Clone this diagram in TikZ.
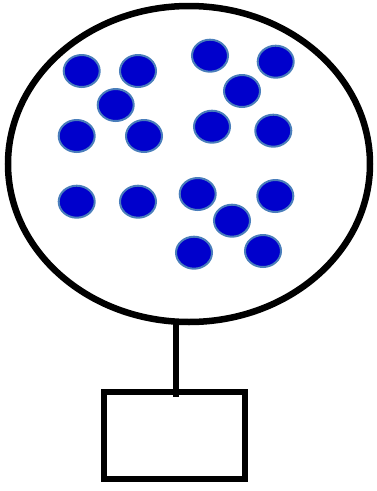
\documentclass[tikz,border=0pt]{standalone}
\definecolor{dotfill}{HTML}{0000CC}
\definecolor{dotline}{HTML}{4A7EBB}
\tikzset{
  dot/.style={ellipse, minimum width=36pt, minimum height=32pt, inner sep=0pt, fill=dotfill, draw=dotline, line width=2pt},
  thick line/.style={line width=6.5pt, black}
}
\usetikzlibrary{shapes.geometric}
\begin{document}
\begin{tikzpicture}[x=1pt,y=-1pt]
\useasboundingbox (0,0) rectangle (376,491);
\node[ellipse, draw, thick line, minimum width=362pt, minimum height=316pt, inner sep=0pt] (cell) at (189,164) {};
\node[draw, thick line, minimum width=141pt, minimum height=87pt, inner sep=0pt] (box) at (174.5,435.5) {};
\coordinate (stemtop) at (176,322);
\coordinate (stemend) at (176,397);
\draw[thick line] (stemtop) -- (stemend);
\foreach \i/\x/\y in {1/81.7/71, 2/138/71, 3/115.7/105, 4/76.7/136, 5/144/136,
  6/210/55.7, 7/275.7/61.7, 8/242/91, 9/212/126.7, 10/273.3/130.7,
  11/76.7/201.7, 12/138/201.7, 13/197.7/194, 14/275.3/196, 15/232/220.7,
  16/194/252.7, 17/263/251}
  \node[dot] (d\i) at (\x,\y) {};
\end{tikzpicture}
\end{document}
